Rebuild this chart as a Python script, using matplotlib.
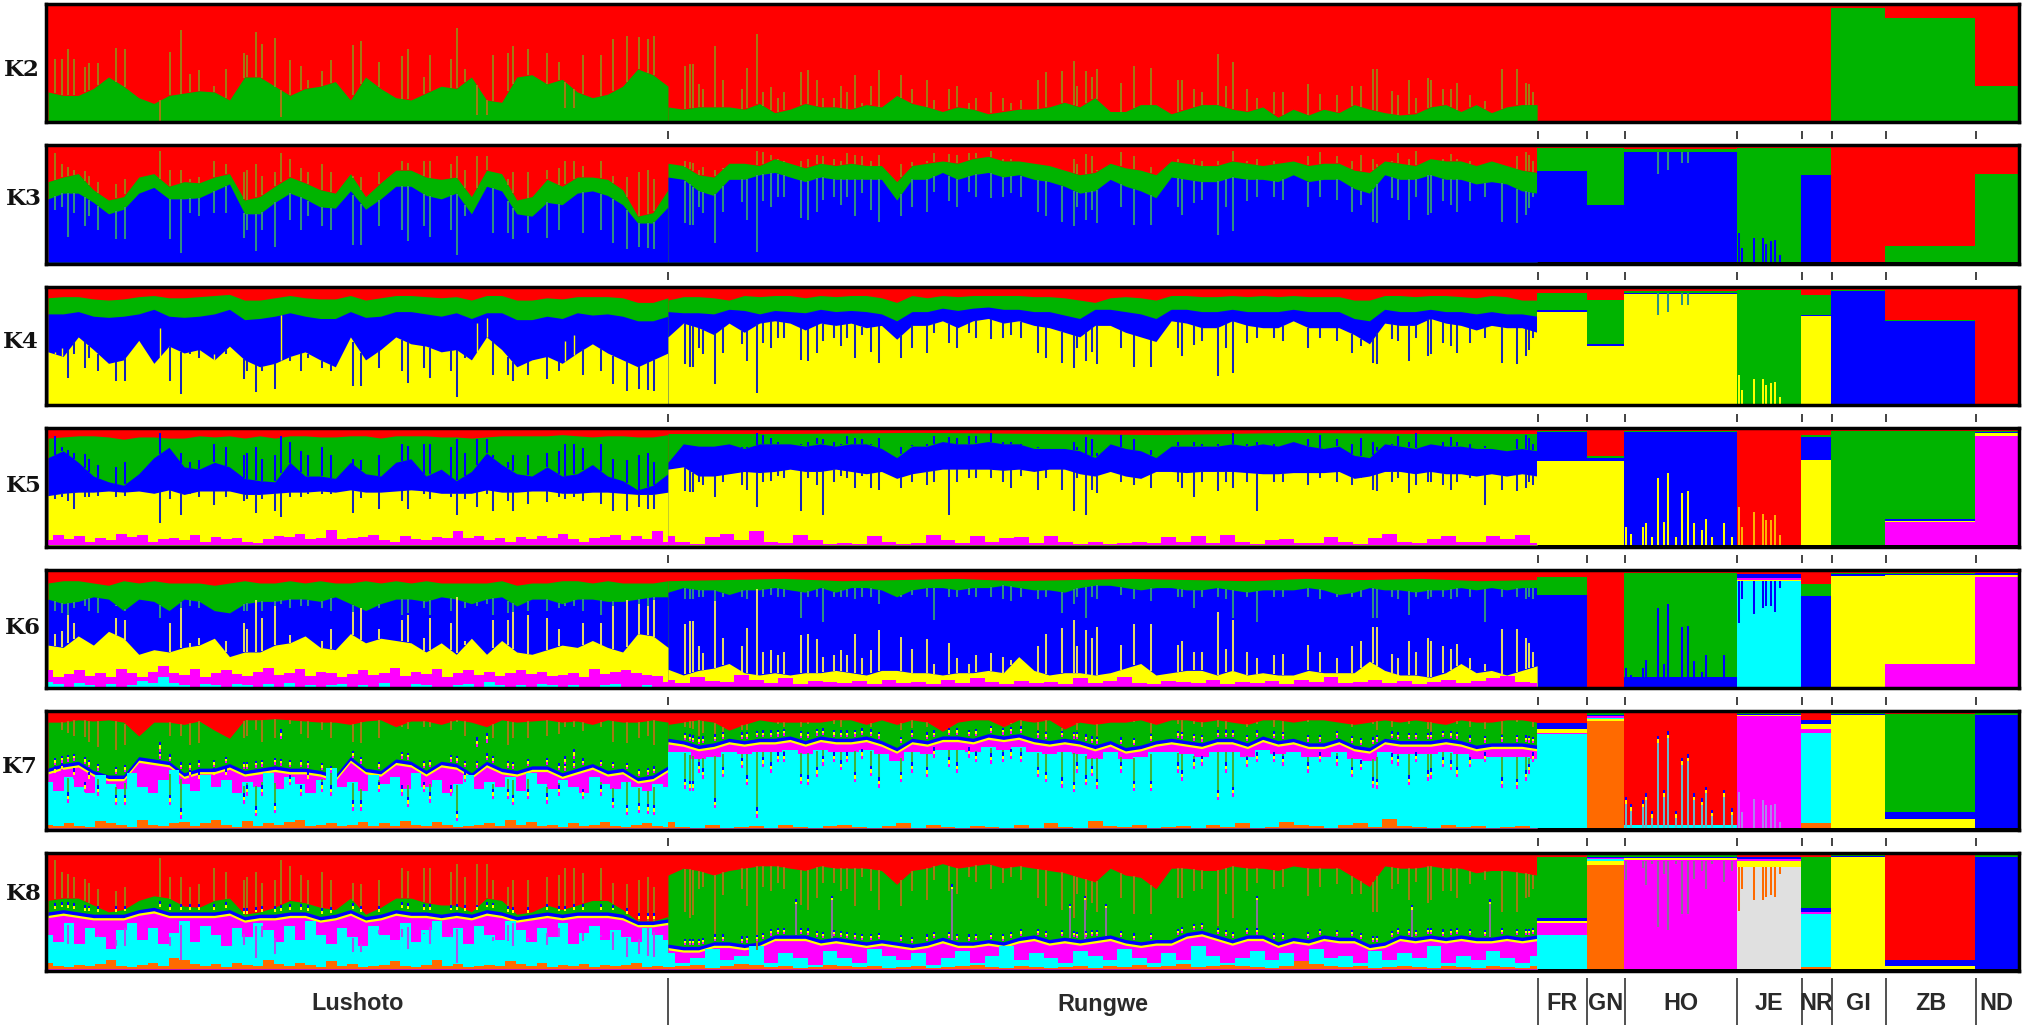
import numpy as np
import matplotlib
matplotlib.use("Agg")
import matplotlib.pyplot as plt

POPS = ["Lushoto", "Rungwe", "FR", "GN", "HO", "JE", "NR", "GI", "ZB", "ND"]
SIZES = [413, 579, 33, 25, 75, 43, 20, 36, 60, 28]
PANELS = ["K2", "K3", "K4", "K5", "K6", "K7", "K8"]
C = dict(r="#ff0000", g="#00b400", b="#0000ff", y="#ffff00", m="#ff00ff",
         c="#00ffff", o="#ff6a00", e="#e0e0e0")

# ---- individuals with strong admixture (sample index inside the population)
LU_AT = [4,9,13,17,24,27,33,45,51,74,81,88,94,100,110,118,130,132,138,142,151,155,161,168,173,182,188,203,208,220,235,239,250,254,268,272,277,285,292,296,306,309,319,332,340,344,350,356,368,376,385,393,399,403]
RU_AT = [11,14,16,20,23,31,36,49,52,59,63,68,73,77,88,93,99,103,110,115,119,124,129,135,140,155,162,172,177,187,192,200,205,215,223,228,235,246,251,262,270,272,278,282,285,
         301,310,321,339,342,350,355,366,371,376,385,392,403,409,426,434,445,455,461,469,472,482,486,493,498,506,508,516,521,525,534,544,555,565,571,573,576]
# spike ends, percent of the bar
LU_K2 = [54,54,62,54,47,50,50,63,62,0,60,79,41,44,30,45,59,57,77,67,72,3,53,48,35,43,53,66,69,51,56,62,38,57,54,81,45,5,5,57,59,65,62,59,51,11,11,57,57,71,74,73,71,74]
RU_K2 = [48,49,49,32,28,65,35,28,46,75,25,29,20,25,42,44,35,20,20,30,25,40,15,30,44,40,28,35,18,28,30,15,20,25,20,15,18,35,42,43,52,30,43,38,45,
         33,48,46,35,35,28,25,58,30,51,28,20,25,25,32,23,22,30,30,45,45,26,22,35,20,37,35,28,28,33,22,17,45,45,33,32,25]
LU_TOP = [95,85,83,80,79,75,70,68,72,97,80,80,72,74,88,85,78,80,85,75,78,95,90,82,78,85,78,75,74,78,88,86,88,88,85,92,80,92,92,78,72,78,78,80,82,88,88,84,88,75,74,78,80,72]
RU_TOP = [88,87,86,80,83,80,82,85,85,97,96,93,90,88,88,90,93,92,90,88,95,93,92,88,93,85,87,88,95,94,93,95,95,97,90,90,88,85,84,80,90,85,94,92,80,
          96,92,83,90,82,90,88,88,86,97,88,90,88,82,92,96,92,88,93,90,85,88,95,90,97,86,78,90,94,90,88,86,82,92,96,93,88]
LU_LOW = [45,48,22,43,31,40,28,20,20,66,20,8,43,40,43,43,21,28,10,28,13,77,37,28,40,31,28,15,15,31,28,18,31,22,28,6,40,70,74,25,25,20,25,21,28,54,60,25,28,17,11,13,12,11]
RU_LOW = [34,32,32,48,43,17,44,52,37,9,53,48,57,57,38,37,44,54,57,50,57,40,60,45,35,40,48,44,61,53,48,61,57,56,57,60,57,44,40,35,31,48,37,45,34,
          48,32,32,48,41,51,54,24,48,27,53,57,57,54,48,57,54,44,50,35,34,56,54,37,57,41,43,53,50,44,53,57,35,34,41,47,57]
LU_K5 = [40,42,38,31,42,42,43,42,43,19,40,26,44,42,35,42,38,40,28,40,30,24,42,42,44,44,44,28,41,31,38,31,44,40,42,26,40,33,44,30,38,30,36,37,42,40,42,38,36,30,30,33,31,31]
RU_K5 = [47,46,46,55,52,42,55,52,48,33,55,56,60,58,30,58,52,26,55,60,58,50,60,50,48,50,55,52,55,26,55,58,58,58,55,50,60,48,58,48,30,58,26,48,45,
         55,52,50,55,50,42,55,47,55,50,55,30,55,55,52,58,55,52,58,48,47,55,58,45,52,55,55,52,48,55,58,35,48,47,50,55,52]
LU_K6 = [46,48,62,55,38,36,40,60,58,20,55,68,38,42,30,40,55,50,75,60,70,15,45,40,30,40,50,65,68,50,58,62,42,60,55,78,40,15,15,58,58,65,62,60,50,20,20,55,55,70,75,72,70,75]
RU_K6 = [54,57,57,35,29,74,42,35,51,85,30,32,27,30,45,46,41,26,27,32,27,46,25,32,49,43,33,41,20,38,25,20,27,29,26,23,23,35,46,51,58,35,49,42,52,
         36,54,54,36,40,30,30,65,33,58,30,25,27,28,36,30,25,35,40,52,52,28,25,40,30,42,40,35,33,37,25,20,50,50,42,38,30]
LU_K6_DROP = [66,64,62,68,70,66,64,70,66,60,68,62,70,68,72,68,66,66,60,66,62,72,68,70,70,68,66,62,60,68,62,64,68,62,66,60,68,70,72,62,64,62,66,66,68,70,70,66,62,64,60,62,64,62]
RU_K6_DROP = [76,76,76,78,78,70,78,78,76,62,78,80,78,78,60,78,78,56,78,78,78,76,78,78,72,78,80,78,58,78,78,80,78,78,76,74,78,76,78,64,72,78,60,78,76,
              80,76,74,78,78,68,78,78,76,60,78,56,78,78,78,76,78,78,78,60,60,78,76,62,78,76,78,78,76,78,78,56,78,78,76,78,76]
RU_K8 = [50,45,47,70,72,30,65,70,55,17,72,68,75,70,56,52,62,75,75,68,70,55,80,68,52,55,68,60,78,68,66,80,76,70,75,80,78,62,55,52,45,66,52,58,50,
         62,48,48,62,62,68,70,38,66,45,68,75,70,72,64,72,74,66,66,50,50,70,74,60,76,58,60,68,68,62,74,78,50,50,62,63,70]
RU_GREY_AT = [85,109,189,267,277,291,392,495,547]
RU_GREY_K8 = [57,60,70,53,60,53,60,52,57]

# ---- main boundaries, percent of the bar, top of each layer
K2_LU_G = [25,22,22,28,38,30,20,15,22,24,26,25,18,38,38,30,22,28,30,34,18,38,28,20,18,24,30,28,38,18,16,38,40,32,36,25,20,23,30,45,40,30]
K2_RU_G = [12,10,12,12,12,10,15,7,10,15,12,12,10,14,12,22,15,12,8,12,10,6,8,10,10,12,16,12,20,
           8,8,14,14,6,10,14,14,10,8,12,3,10,5,10,7,14,10,7,5,6,12,14,8,14,7,12,14,14]
K3_LU_G = [70,74,77,63,54,57,74,77,66,70,69,74,77,54,57,66,74,69,63,60,77,57,69,80,80,74,72,74,57,80,77,54,57,72,66,74,74,72,63,40,43,63]
K3_LU_B = [55,60,60,52,42,46,60,65,55,55,56,62,68,42,42,52,60,55,48,47,62,46,55,66,66,58,55,60,42,66,62,42,40,52,50,60,62,58,50,34,34,48]
K3_RU_G = [86,84,76,74,86,86,84,90,86,82,86,84,86,84,84,70,84,86,88,86,90,92,88,88,86,84,80,76,78,
           86,82,80,76,88,86,84,84,88,86,84,86,88,84,86,86,80,78,88,86,84,90,88,88,84,88,84,80,78]
K3_RU_B = [74,72,62,58,72,72,76,78,74,70,74,72,72,72,72,54,72,72,78,72,76,78,74,76,72,70,66,60,62,
           72,66,62,56,74,72,70,70,74,72,72,70,76,70,72,72,64,60,76,72,72,76,72,72,68,70,68,62,60]
K4_LU_G = [92,93,93,91,90,91,93,94,92,92,93,94,95,90,90,92,94,92,91,91,94,90,92,94,94,93,92,93,90,94,94,90,90,92,91,93,93,93,92,88,88,92]
K4_LU_B = [78,78,80,76,75,76,78,82,76,75,76,78,82,73,74,76,79,76,74,74,80,75,76,80,80,78,76,79,74,79,79,73,73,76,74,79,77,78,76,72,72,76]
K4_LU_Y = [45,41,58,47,35,38,55,35,50,44,47,38,50,38,32,35,41,45,38,32,58,38,47,58,52,50,45,47,38,58,47,32,38,41,35,44,52,44,38,32,38,44]
K4_RU_G = [90,93,93,92,90,94,93,94,94,92,94,93,94,94,92,88,94,92,94,93,94,94,94,94,93,93,92,90,88,
           92,93,92,90,94,94,93,93,94,93,94,93,94,93,93,93,90,90,94,94,93,94,94,93,92,94,93,90,90]
K4_RU_B = [80,79,79,78,82,81,78,81,80,79,82,80,81,80,78,72,80,80,83,81,83,84,82,82,80,80,77,74,82,
           82,80,78,74,82,82,80,80,82,80,80,80,82,80,80,80,74,72,82,80,80,82,80,80,78,80,78,78,76]
K4_RU_Y = [58,70,66,60,70,62,70,72,70,64,70,68,70,66,68,56,68,68,72,66,72,74,70,72,68,66,62,58,68,
           68,62,58,54,72,70,66,66,72,68,66,66,72,66,66,66,60,52,70,68,68,74,70,68,64,68,66,66,62]
K5_LU_G = [93,94,95,95,94,92,94,94,93,93,95,94,95,93,95,93,95,95,94,94,95,95,93,95,95,95,94,94,93,94,95,95,95,95,96,95,94,95,95,94,94,96]
K5_LU_B = [76,82,72,60,55,52,62,76,85,68,66,72,68,58,56,55,72,60,60,58,72,62,60,72,75,60,66,56,64,80,70,62,60,68,60,62,70,60,56,48,52,62]
K5_LU_Y = [43,45,46,46,47,46,47,45,48,44,47,47,47,44,44,45,46,46,47,46,48,46,46,47,48,47,45,45,45,48,46,46,47,47,45,45,46,46,45,44,44,46]
K5_RU_G = [97,97,98,97,96,98,97,97]
K5_RU_B = [72,88,86,86,88,84,88,88,88,86,88,86,88,88,84,76,86,86,90,88,88,90,88,88,84,84,84,82,76,
           88,84,82,76,86,86,86,86,88,86,88,86,90,86,84,86,78,76,88,86,84,88,86,86,84,84,82,84,82]
K5_RU_Y = [66,68,60,60,62,64,63,64,66,64,64,66,64,62,64,58,62,64,66,66,66,66,65,66,64,66,66,62,60,
           64,60,58,64,64,63,64,64,64,63,62,62,63,63,63,64,58,60,64,64,62,64,62,62,60,62,60,62,60]
K6_LU_G = [90,92,92,90,88,92,90,92,90,90,90,88,90,92,90,90,92,90,92,90,90,92,90,92,90,92,90,90,90,90,92,88,90,90,92,92,90,92,90,90,90,92]
K6_LU_B = [76,72,74,78,76,66,76,74,66,76,74,66,64,72,74,74,76,76,74,78,72,66,72,76,76,74,78,76,72,76,78,70,76,76,72,76,76,74,74,76,78,78]
K6_LU_Y = [36,34,44,36,48,42,28,32,30,34,36,42,26,30,30,36,38,44,34,32,46,38,42,40,38,30,38,28,42,28,40,30,28,32,36,34,40,34,30,46,44,34]
K6_RU_G = [92,93,94,92,93,94,92,93,94,93,92,94,93,94,92,93]
K6_RU_B = [82,86,84,84,80,84,84,86,84,82,86,82,86,86,84,78,84,86,86,84,86,86,88,86,84,84,82,86,88,
           88,86,84,86,86,84,84,86,84,82,84,84,84,86,84,80,82,86,84,84,82,84,84,86,84,86,84,86,86]
K6_RU_Y = [15,10,14,16,20,12,10,12,10,12,12,14,12,10,14,14,12,12,10,12,12,14,12,26,14,10,12,12,10,
           12,16,20,10,12,14,14,10,14,10,12,10,10,14,12,12,12,22,14,10,10,8,12,20,12,14,10,14,18]
K7_LU_G = [92,92,94,93,94,92,80,92,92,90,93,85,78,94,94,95,94,93,92,92,90,93,94,88,93,93,90,94,92,88,94,92,93,94,92,93,90,94,92,92,94,92]
K7_LU_M = [52,56,58,50,46,46,62,60,58,48,52,52,56,50,52,54,52,52,50,46,62,52,50,60,58,50,58,56,48,58,52,50,54,54,48,52,56,50,52,44,46,54]
K7_LU_C = [40,32,44,36,30,46,38,34,48,36,30,42,50,38,32,46,36,42,30,40,36,48,34,44,38,30,42,52,36,40,32,46,38,44,34,48,36,42,30,38,46,34,40,36,44,32,48,38,34,42,36,30,44,38,34,40,36,32,38,36]
K7_RU_G = [90,92,94,92,85,90,94,92,92,92,92,94,94,90,94,90,94,92,84,92,94,94,88,94,92,94,86,92,90,
           92,92,94,90,94,94,92,94,92,90,94,94,92,94,94,92,90,92,94,92,94,92,90,94,92,92,94,94,92]
K7_RU_M = [78,76,72,74,78,76,78,78,80,76,80,78,78,80,76,70,78,76,80,80,78,82,80,82,78,76,78,76,72,
           76,70,72,76,78,76,74,78,78,74,80,76,78,74,74,78,72,70,78,76,76,76,78,76,72,74,74,74,72]
K7_RU_C = [66,66,60,62,66,64,66,66,68,64,68,66,66,68,64,58,66,64,68,68,66,70,68,70,66,64,66,64,60,
           66,60,62,66,66,64,62,66,66,62,68,64,66,62,62,66,60,58,66,64,64,64,66,64,60,62,62,62,60]
K8_LU_G = [60,62,62,56,50,52,60,64,62,55,54,60,62,48,50,54,60,58,54,52,62,48,54,62,62,58,56,56,50,62,60,48,50,56,52,56,60,60,52,42,42,46]
K8_LU_M = [50,52,50,48,48,48,52,54,50,50,50,50,52,46,48,48,50,50,46,48,52,46,48,52,50,50,48,50,48,52,50,46,48,50,48,50,50,50,48,42,42,44]
K8_LU_C = [30,24,40,22,36,28,18,34,40,26,36,22,32,42,24,38,30,20,36,28,40,34,24,38,26,42,30,22,36,28,20,38,30,26,40,24,34,42,28,36,22,38,30,26,42,34,24,36,28,40,22,32,38,26,34,28,24,36,30,26]
K8_RU_G = [82,88,86,82,86,88,90,90,88,86,90,88,88,88,86,74,86,88,92,88,90,92,88,90,88,86,84,80,76,
           88,82,80,70,88,88,86,86,90,88,88,86,90,88,88,88,80,72,90,88,88,90,88,88,84,86,86,84,82]
K8_RU_M = [22,20,20,24,24,22,24,30,30,30,26,28,26,24,26,24,22,24,28,24,24,26,24,28,30,26,28,26,28,
           30,26,24,26,26,32,34,30,26,30,30,24,28,26,30,28,28,22,24,30,28,30,28,30,28,28,30,28,30]
K8_RU_C = [14,6,10,18,8,12,20,6,14,10,4,16,10,6,18,12,8,14,4,10,16,6,12,20,8,14,10,6,16,12,8,18,10,6,14,8,20,12,6,10,16,8,14,6,18,10,12,6,16,8,14,10,20,6,12,8,16,10,6,12]

# ---- thin layers along the foot of the bars, percent
K5_LU_FOOT = [4,9,5,8,3,6,4,10,7,9,3,5,6,4,9,3,7,5,6,3,2,5,8,7,10,5,6,13,5,6,7,9,4,3,8,5,4,7,6,12,6,8,4,6,3,7,5,8,6,10,5,3,6,7,9,4,8,5,12,3]
K5_RU_FOOT = [8,3,1,7,10,4,12,3,2,9,4,1,2,1,8,3,1,2,9,4,2,8,3,6,7,2,8,3,1,3,1,2,3,2,7,3,8,2,9,3,1,4,5,2,2,7,3,1,6,10,3,2,5,8,3,3,8,5,9,2]
K6_LU_FOOT = [14,8,11,14,9,12,8,15,12,8,13,18,12,10,15,8,12,14,11,9,13,16,10,12,15,9,13,12,8,11,14,10,12,16,9,13,11,15,8,12,14,10,13,9,12,14,11,13,9,10,12,8,15,11,13,14,12,10,9,4]
K6_LU_CYAN = [4,2,0,3,1,0,2,0,1,5,3,8,3,1,0,2,1,0,2,1,0,2,0,3,0,1,0,1,2,0,1,0,3,0,0,2,1,0,0,1,2,0,4,1,0,1,0,2,1,0,1,0,0,1,2,0,0,1,0,0]
K6_RU_FOOT = [6,3,8,5,4,10,6,3,7,2,5,4,3,5,2,6,3,4,2,6,3,7,4,2,5,3,4,2,7,3,5,8,3,2,5,4,3,6,2,4,3,5,2,6,4,8,3,4,6,3,5,2,4,6,3,5,7,9,4,3]
K7_LU_FOOT = [3,2,4,2,1,6,4,3,1,7,3,2,4,5,2,4,7,3,1,6,2,4,3,5,7,2,3,4,2,3,5,2,4,2,6,3,2,5,3,1,2,3,4,2,7,3,5,2,3,1,4,2,3,5,2,1,3,4,2,1]
K7_RU_FOOT = [5,1,0,3,0,1,2,0,3,1,0,2,3,1,0,2,4,0,3,1,0,2,1,0,3,0,4,1,0,6,2,1,3,0,1,2,0,3,1,4,0,1,5,3,2,0,3,4,1,8,2,1,0,3,1,2,0,1,2,0]
K8_LU_FOOT = [6,3,2,4,3,5,8,3,2,4,6,3,10,8,5,3,5,2,6,4,3,8,5,3,6,4,2,7,3,5,2,3,4,7,3,2,4,8,3,5,2,3,4,3,7,5,3,6,2,4,3,5,2,4,3,4,6,2,3,2]
K8_RU_FOOT = [2,3,4,1,3,5,4,2,3,1,2,4,3,2,3,1,2,3,1,2,3,4,2,1,3,2,1,2,3,1,3,2,4,2,3,5,2,3,4,3,2,1,3,7,5,3,2,3,1,2,3,2,1,3,2,1,3,2,1,3]

# ---- small populations: colours from the top down and the top of each layer
K2_SMALL = dict(FR=("r",[100]), GN=("r",[100]), HO=("r",[100]), JE=("r",[100]), NR=("r",[100]),
                GI=("rg",[100,98]), ZB=("rg",[100,89]), ND=("rg",[100,30]))
K3_SMALL = dict(FR=("rgb",[100,99,79]), GN=("rgb",[100,99,50]), HO=("rgb",[100,98,96]), JE=("rg",[100,99]),
                NR=("rgb",[100,99,76]), GI=("r",[100]), ZB=("rg",[100,14]), ND=("rg",[100,77]))
K4_SMALL = dict(FR=("rgby",[100,96,81,80]), GN=("rgby",[100,90,52,50]), HO=("rgby",[100,98,96,95]), JE=("rg",[100,99]),
                NR=("rgby",[100,94,77,76]), GI=("rgb",[100,99,98]), ZB=("rgb",[100,73,72]), ND=("r",[100]))
K5_SMALL = dict(FR=("rgby",[100,99,98,73]), GN=("rgby",[100,77,76,73]), HO=("rgb",[100,99,98]), JE=("r",[100]),
                NR=("rgby",[100,96,94,74]), GI=("rg",[100,99]), ZB=("rgbym",[100,99,23,21,20]), ND=("rgbym",[100,99,98,97,95]))
K6_SMALL = dict(FR=("rgb",[100,95,80]), GN=("r",[100]), HO=("rgb",[100,99,8]), JE=("rbmyc",[100,98,94,93,92]),
                NR=("rgb",[100,89,79]), GI=("rgby",[100,99,98,96]), ZB=("rgbym",[100,99,98,97,20]), ND=("rbym",[100,99,97,95]))
K7_SMALL = dict(FR=("rbymc",[100,91,86,83,82]), GN=("gbmcyo",[100,98,97,96,95,93]), HO=("rc",[100,3]), JE=("gbym",[100,99,98,97]),
                NR=("rbymco",[100,94,90,86,83,4]), GI=("gby",[100,99,98]), ZB=("rgbym",[100,99,14,8,0]), ND=("gb",[100,98]))
K8_SMALL = dict(FR=("rgbymc",[100,98,45,42,40,30]), GN=("gbmcyo",[100,98,97,96,94,91]), HO=("gbym",[100,98,97,95,93]), JE=("rbmye",[100,98,96,94,89]),
                NR=("rgbmco",[100,98,53,50,48,2]), GI=("gby",[100,99,98]), ZB=("rby",[100,8,3]), ND=("gb",[100,98]))

HO_AT = [1,4,12,14,18,22,26,29,34,38,42,46,51,54,58,66,71]
HO_K3 = [96,96,96,96,96,77,96,80,96,86,86,96,96,96,96,96,96]
HO_K5 = [16,10,16,19,7,58,20,63,7,45,47,19,13,23,7,19,7]
HO_K6 = [16,10,16,23,7,68,20,72,7,52,53,22,13,27,7,27,7]
HO_K7 = [21,15,18,24,9,74,27,78,9,55,58,24,20,30,10,27,11]
HO_K8 = [78,94,88,73,92,37,83,34,92,48,48,79,86,70,92,76,86]
JE_AT = [1,3,11,17,19,22,25,28]
JE_K3 = [25,12,21,21,16,18,19,6]
JE_K5 = [33,16,29,27,22,22,26,9]
JE_K6 = [55,76,63,68,70,70,65,86]
JE_K7 = [31,14,25,24,20,20,21,5]
JE_K8 = [51,70,60,60,63,65,63,83]

LABEL_Y = {"K2":70,"K3":199,"K4":342,"K5":486,"K6":628,"K7":767,"K8":894}
LABEL_X = {"K2":22,"K3":24,"K4":21,"K5":24,"K6":23,"K7":20,"K8":24}

W, H = 2025, 1030
fig = plt.figure(figsize=(W/100, H/100), dpi=100, facecolor="white")
starts = dict(zip(POPS, np.cumsum([0]+SIZES[:-1])))
sizes = dict(zip(POPS, SIZES))
total = sum(SIZES)
IN_L, IN_R = 48.0, 2017.5
SCALE = (IN_R-IN_L)/total
PITCH = 141.45
SPIKE = 1.45

def make_ax(i):
    top, bot = 5.7+i*PITCH, 120.7+i*PITCH
    pad = 1.7
    x0, x1 = IN_L-pad, IN_R+pad
    y0, y1 = top-pad, bot+pad
    ax = fig.add_axes([x0/W, 1-y1/H, (x1-x0)/W, (y1-y0)/H])
    ax.set_facecolor("black")
    ax.set_xlim(-pad/SCALE, total+pad/SCALE)
    ax.set_ylim(-pad*100/(bot-top), 100+pad*100/(bot-top))
    ax.set_xticks([]); ax.set_yticks([])
    for s in ax.spines.values():
        s.set_linewidth(2.5); s.set_color("black"); s.set_zorder(20)
    return ax

def xs_of(pop, arr):
    return np.linspace(starts[pop], starts[pop]+sizes[pop], len(arr))

def fill(ax, pop, col, arr, z=1, step=None):
    arr = np.asarray(arr, float)
    ax.fill_between(xs_of(pop, arr), 0, arr, color=C.get(col, col), lw=0, zorder=z, step=step)

def base(ax, pop, col):
    ax.bar(starts[pop], 100, width=sizes[pop], align="edge", color=C[col], lw=0, zorder=0)

def small(ax, table):
    for pop, (cols, tops) in table.items():
        for c, t in zip(cols, tops):
            ax.bar(starts[pop], t, width=sizes[pop], align="edge", color=C[c], lw=0, zorder=1)

def at_x(pop, at):
    return starts[pop]+np.asarray(at, float)+0.5

def at_level(pop, at, boundary):
    return np.interp(at_x(pop, at), xs_of(pop, boundary), boundary)

def spikes(ax, pop, at, ends, boundary, col, z=3, lw=SPIKE, only=None):
    x = at_x(pop, at)[:len(ends)]
    ends = np.asarray(ends, float)
    if np.ndim(boundary) == 0:
        b = np.full(len(x), float(boundary))
    else:
        b = np.interp(x, xs_of(pop, boundary), boundary)
    if only == "up":
        keep = ends > b
    elif only == "down":
        keep = ends < b
    else:
        keep = np.ones(len(x), bool)
    ax.vlines(x[keep], np.minimum(ends, b)[keep], np.maximum(ends, b)[keep], color=C.get(col, col), lw=lw, zorder=z)

def tips(ax, pop, at, ends, cols=("m", "y", "b"), step=3, z=4):
    x = at_x(pop, at)
    ends = np.asarray(ends, float)
    for k, c in enumerate(cols):
        ax.vlines(x, ends+k*step, ends+(k+1)*step, color=C[c], lw=1.4, zorder=z)

def misc_band(ax, pop, top):
    """Blue cap, thin yellow, then magenta down to the cyan layer drawn after it."""
    top = np.asarray(top, float)
    fill(ax, pop, "b", top, 1)
    fill(ax, pop, "y", top-3, 1)
    fill(ax, pop, "m", top-5, 1)

OLIVE, TEAL, NAVY, PALE, PURPLE, GREY = "#a17a12", "#2f8f84", "#1626b8", "#e4da66", "#b04cf0", "#8a6f9a"

axes = {p: make_ax(i) for i, p in enumerate(PANELS)}

# K2
ax = axes["K2"]
for pop, g, at, v in (("Lushoto", K2_LU_G, LU_AT, LU_K2), ("Rungwe", K2_RU_G, RU_AT, RU_K2)):
    base(ax, pop, "r")
    fill(ax, pop, "g", g, 2)
    spikes(ax, pop, at, v, g, OLIVE, z=3)
small(ax, K2_SMALL)

# K3
ax = axes["K3"]
for pop, g, b, at, t, l in (("Lushoto", K3_LU_G, K3_LU_B, LU_AT, LU_TOP, LU_LOW), ("Rungwe", K3_RU_G, K3_RU_B, RU_AT, RU_TOP, RU_LOW)):
    base(ax, pop, "r")
    fill(ax, pop, "g", g, 1)
    fill(ax, pop, "b", b, 1)
    spikes(ax, pop, at, t, g, OLIVE, only="up")
    spikes(ax, pop, at, l, b, TEAL, only="down")
small(ax, K3_SMALL)
spikes(ax, "HO", HO_AT, HO_K3, 96, TEAL)
ax.vlines(at_x("JE", JE_AT), 0, JE_K3, color=C["b"], lw=SPIKE, zorder=3)

# K4
ax = axes["K4"]
for pop, g, b, y, at, l in (("Lushoto", K4_LU_G, K4_LU_B, K4_LU_Y, LU_AT, LU_LOW), ("Rungwe", K4_RU_G, K4_RU_B, K4_RU_Y, RU_AT, RU_LOW)):
    base(ax, pop, "r")
    fill(ax, pop, "g", g, 1)
    fill(ax, pop, "b", b, 1)
    fill(ax, pop, "y", y, 1)
    spikes(ax, pop, at, l, y, NAVY, only="down")
    spikes(ax, pop, at, l, y, C["y"], only="up", lw=1.0)
small(ax, K4_SMALL)
spikes(ax, "HO", HO_AT, HO_K3, 96, TEAL)
ax.vlines(at_x("JE", JE_AT), 0, JE_K3, color=C["y"], lw=SPIKE, zorder=3)

# K5
ax = axes["K5"]
for pop, g, b, y, ft, at, l, t in (("Lushoto", K5_LU_G, K5_LU_B, K5_LU_Y, K5_LU_FOOT, LU_AT, LU_K5, LU_TOP),
                                   ("Rungwe", K5_RU_G, K5_RU_B, K5_RU_Y, K5_RU_FOOT, RU_AT, RU_K5, RU_TOP)):
    base(ax, pop, "r")
    fill(ax, pop, "g", g, 1)
    fill(ax, pop, "b", b, 1)
    spikes(ax, pop, at, t, b, C["b"], only="up")
    fill(ax, pop, "y", y, 2)
    spikes(ax, pop, at, l, y, NAVY, only="down")
    fill(ax, pop, "m", ft, 4, step="mid")
small(ax, K5_SMALL)
ax.vlines(at_x("HO", HO_AT), 0, HO_K5, color=C["y"], lw=SPIKE, zorder=3)
ax.vlines(at_x("JE", JE_AT), 0, JE_K5, color="#ffb000", lw=SPIKE, zorder=3)

# K6
ax = axes["K6"]
for pop, g, b, y, ft, at, v, d in (("Lushoto", K6_LU_G, K6_LU_B, K6_LU_Y, K6_LU_FOOT, LU_AT, LU_K6, LU_K6_DROP),
                                   ("Rungwe", K6_RU_G, K6_RU_B, K6_RU_Y, K6_RU_FOOT, RU_AT, RU_K6, RU_K6_DROP)):
    base(ax, pop, "r")
    fill(ax, pop, "g", g, 1)
    fill(ax, pop, "b", b, 1)
    spikes(ax, pop, at, d, b, TEAL, only="down")
    fill(ax, pop, "y", y, 2)
    spikes(ax, pop, at, v, y, PALE, only="up")
    fill(ax, pop, "m", ft, 4, step="mid")
fill(ax, "Lushoto", "c", K6_LU_CYAN, 5, step="mid")
small(ax, K6_SMALL)
ax.vlines(at_x("HO", HO_AT), 0, HO_K6, color=C["b"], lw=SPIKE, zorder=3)
ax.vlines(at_x("JE", JE_AT), JE_K6, 92, color=C["b"], lw=SPIKE, zorder=3)

# K7
ax = axes["K7"]
for pop, g, m, c_, ft, at, l, t in (("Lushoto", K7_LU_G, K7_LU_M, K7_LU_C, K7_LU_FOOT, LU_AT, LU_LOW, LU_TOP),
                                    ("Rungwe", K7_RU_G, K7_RU_M, K7_RU_C, K7_RU_FOOT, RU_AT, RU_LOW, RU_TOP)):
    base(ax, pop, "r")
    fill(ax, pop, "g", g, 1)
    misc_band(ax, pop, m)
    fill(ax, pop, "c", c_, 1, step="mid")
    spikes(ax, pop, at, t, g, OLIVE, only="down")
    spikes(ax, pop, at, l, c_, "#3cb43c", only="down")
    tips(ax, pop, at, l)
    tips(ax, pop, at, at_level(pop, at, m)+1, step=2)
    fill(ax, pop, "o", ft, 4, step="mid")
small(ax, K7_SMALL)
ax.vlines(at_x("HO", HO_AT), 0, HO_K7, color="#68b8c8", lw=SPIKE, zorder=3)
tips(ax, "HO", HO_AT, HO_K7, cols=("y", "b"))
ax.vlines(at_x("JE", JE_AT), 0, JE_K7, color="#b080f0", lw=SPIKE, zorder=3)

# K8
ax = axes["K8"]
pop = "Lushoto"
base(ax, pop, "r")
fill(ax, pop, "g", K8_LU_G, 1)
misc_band(ax, pop, K8_LU_M)
fill(ax, pop, "c", K8_LU_C, 1, step="mid")
spikes(ax, pop, LU_AT, LU_TOP, K8_LU_G, OLIVE, only="up")
spikes(ax, pop, LU_AT, LU_LOW, K8_LU_C, PURPLE, only="down")
tips(ax, pop, LU_AT, at_level(pop, LU_AT, K8_LU_M)+2, cols=("y", "b"), step=2.5)
fill(ax, pop, "o", K8_LU_FOOT, 4, step="mid")
pop = "Rungwe"
base(ax, pop, "r")
fill(ax, pop, "g", K8_RU_G, 1)
misc_band(ax, pop, K8_RU_M)
fill(ax, pop, "c", K8_RU_C, 1, step="mid")
spikes(ax, pop, RU_AT, RU_K8, K8_RU_G, OLIVE, only="down")
spikes(ax, pop, RU_GREY_AT, RU_GREY_K8, K8_RU_M, GREY, only="up")
tips(ax, pop, RU_GREY_AT, RU_GREY_K8, cols=("y", "b"), step=2)
tips(ax, pop, RU_AT, at_level(pop, RU_AT, K8_RU_M)+1, step=1.8)
fill(ax, pop, "o", K8_RU_FOOT, 4, step="mid")
small(ax, K8_SMALL)
ax.vlines(at_x("HO", HO_AT), HO_K8, 94, color=GREY, lw=SPIKE, zorder=3)
ax.vlines(at_x("JE", JE_AT), JE_K8, 89, color=C["o"], lw=SPIKE, zorder=3)

# overlay in pixel units for separators and labels
ov = fig.add_axes([0, 0, 1, 1], zorder=30)
ov.set_xlim(0, W); ov.set_ylim(H, 0); ov.axis("off"); ov.patch.set_alpha(0)
edges = [IN_L+SCALE*s+0.5 for s in starts.values()][1:]
for i in range(6):
    y0 = 130.7+i*PITCH
    ov.vlines(edges, y0, y0+8.3, color="#222222", lw=1.2)
ov.vlines(edges, 978, 1025, color="#222222", lw=1.1)
for p in PANELS:
    ov.text(LABEL_X[p], LABEL_Y[p], p, family="DejaVu Serif", weight="bold", fontsize=16.5,
            ha="center", va="center", color="#111111")
for pop in POPS:
    cx = IN_L+SCALE*(starts[pop]+sizes[pop]/2)
    ov.text(cx, 1004, pop, family="Liberation Sans", weight="bold", fontsize=16.8,
            ha="center", va="center", color="#2a2a2a")

fig.savefig("out.png", dpi=100, facecolor="white")
